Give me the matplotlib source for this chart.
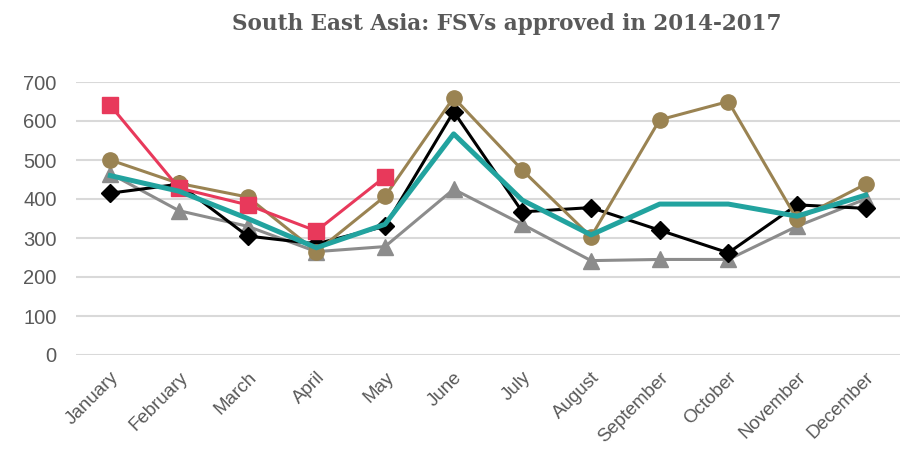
import matplotlib
matplotlib.use("Agg")
import matplotlib.pyplot as plt

months = ["January", "February", "March", "April", "May", "June", "July",
          "August", "September", "October", "November", "December"]
s2014 = [415, 438, 305, 285, 330, 624, 367, 378, 320, 262, 385, 376]
s2015 = [465, 370, 330, 265, 278, 425, 335, 242, 245, 245, 330, 400]
s2016 = [500, 440, 405, 265, 407, 660, 474, 303, 603, 650, 348, 438]
s2017 = [640, 428, 385, 318, 457]
avg = [460, 420, 350, 275, 335, 567, 397, 308, 387, 387, 356, 410]
yticks = [0, 100, 200, 300, 400, 500, 600, 700]

fig = plt.figure(figsize=(9.10, 4.62), dpi=100)
ax = fig.add_axes([76/910, 1-355/462, (900-76)/910, (355-82)/462])

x = list(range(len(months)))
ax.plot(x, s2015, color="#8c8c8c", lw=2.2, marker="^", ms=11, zorder=3, clip_on=False)
ax.plot(x, s2014, color="#000000", lw=2.2, marker="D", ms=9, zorder=4, clip_on=False)
ax.plot(x, s2016, color="#9a8352", lw=2.2, marker="o", ms=11, zorder=5, clip_on=False)
ax.plot(range(len(s2017)), s2017, color="#e8395b", lw=2.2, marker="s", ms=11, zorder=6, clip_on=False)
ax.plot(x, avg, color="#22a39f", lw=3.6, zorder=7, clip_on=False)

ax.set_xlim(-0.5, 11.5)
ax.set_ylim(0, 700)
ax.set_yticks(yticks)
ax.set_xticks(x)
ax.set_xticklabels(months, rotation=45, ha="right", rotation_mode="anchor")
ax.tick_params(axis="y", length=0, labelsize=14.5, labelcolor="#595959", pad=14)
ax.tick_params(axis="x", length=0, labelsize=13.5, labelcolor="#595959", pad=10)
for lab in ax.get_xticklabels() + ax.get_yticklabels():
    lab.set_fontfamily("Liberation Sans")
ax.grid(axis="y", color="#d9d9d9", lw=1.5, zorder=0)
ax.set_axisbelow(True)
for sp in ax.spines.values():
    sp.set_visible(False)

fig.text(507/910, 1-24/462, "South East Asia: FSVs approved in 2014-2017",
         ha="center", va="center", fontsize=15.5, fontweight="bold",
         family="DejaVu Serif", color="#595959")

fig.savefig("out.png", dpi=100)
